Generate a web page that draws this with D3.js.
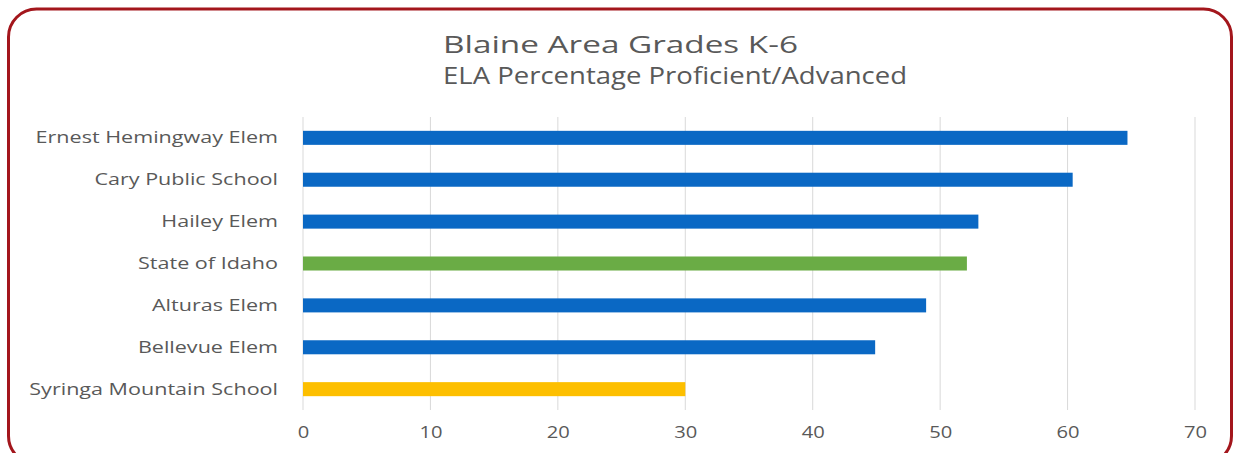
<!DOCTYPE html>
<html><head><meta charset="utf-8">
<script src="https://cdn.jsdelivr.net/npm/d3@7"></script>
<style>html,body{margin:0;padding:0;background:#fff;}svg{display:block;}</style>
</head><body>
<svg id="c" width="1239" height="453"></svg>
<script>
const categories = ["Ernest Hemingway Elem","Cary Public School","Hailey Elem","State of Idaho","Alturas Elem","Bellevue Elem","Syringa Mountain School"];
const values = [64.7, 60.4, 53.0, 52.1, 48.9, 44.9, 30.0];
const barColors = ["#0a68c4","#0a68c4","#0a68c4","#6aac45","#0a68c4","#0a68c4","#fdbf00"];
const tickValues = [0,10,20,30,40,50,60,70];
const titleLines = ["Blaine Area Grades K-6","ELA Percentage Proficient/Advanced"];

const svg = d3.select("#c");
const font = "'Open Sans', sans-serif";
svg.append("rect").attr("x",8.5).attr("y",9).attr("width",1223).attr("height",455)
  .attr("rx",28).attr("fill","#fff").attr("stroke","#a3161c").attr("stroke-width",3);

const x = d3.scaleLinear().domain([0,70]).range([303,1195]);
const y = d3.scaleBand().domain(categories).range([117,410]).paddingInner(0.665).paddingOuter(0.33);

function stretch(sel, k){
  sel.each(function(){
    const w = this.getComputedTextLength();
    d3.select(this).attr("textLength", w*k).attr("lengthAdjust","spacingAndGlyphs");
  });
}

const g = svg.append("g");
g.selectAll("line.grid").data(tickValues).join("line")
  .attr("x1",d=>x(d)).attr("x2",d=>x(d)).attr("y1",117).attr("y2",410)
  .attr("stroke","#d9d9d9").attr("stroke-width",1);

g.selectAll("rect.bar").data(values).join("rect")
  .attr("x",x(0)).attr("y",(d,i)=>y(categories[i]))
  .attr("width",d=>x(d)-x(0)).attr("height",y.bandwidth())
  .attr("fill",(d,i)=>barColors[i]);

const yAxis = d3.axisLeft(y).tickSize(0).tickPadding(25);
const ya = svg.append("g").attr("transform",`translate(${x(0)},0)`).call(yAxis);
ya.select(".domain").remove();
ya.selectAll("text").attr("font-family",font).attr("font-size",15.5).attr("fill","#595959").attr("dy","0.35em");
stretch(ya.selectAll("text"), 1.39);

const xAxis = d3.axisBottom(x).tickValues(tickValues).tickSize(0).tickPadding(17);
const xa = svg.append("g").attr("transform","translate(0,410)").call(xAxis);
xa.select(".domain").remove();
xa.selectAll("text").attr("font-family",font).attr("font-size",15.5).attr("fill","#595959");
stretch(xa.selectAll("text"), 1.3);

const titleWidths = [355, 464];
svg.selectAll("text.title").data(titleLines).join("text")
  .attr("class","title")
  .attr("x",443).attr("y",(d,i)=>53+i*31).attr("text-anchor","start")
  .attr("font-family",font).attr("font-size",23).attr("fill","#595959")
  .attr("textLength",(d,i)=>titleWidths[i]).attr("lengthAdjust","spacingAndGlyphs")
  .text(d=>d);
</script>
</body></html>
